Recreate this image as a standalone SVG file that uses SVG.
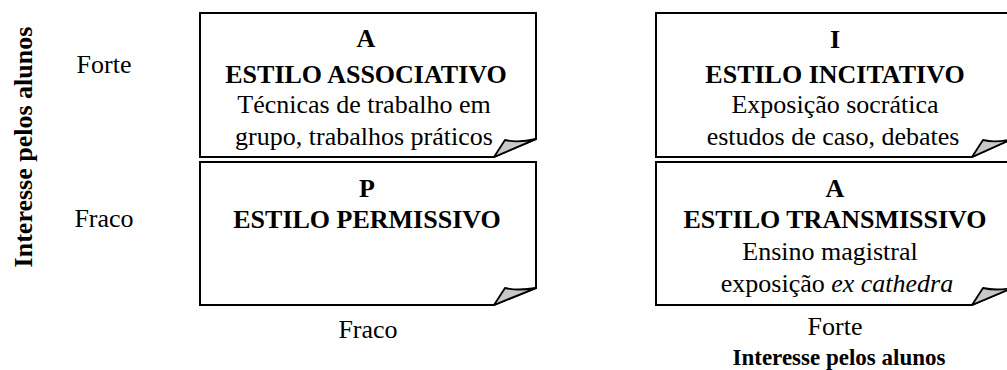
<svg xmlns="http://www.w3.org/2000/svg" width="1007" height="370" viewBox="0 0 1007 370">
  <style>
    text { font-family: "Liberation Serif", "Times New Roman", serif; font-size: 26px; fill: #000; text-anchor: middle; }
    .b { font-weight: bold; }
    .box { fill: #fff; stroke: #000; stroke-width: 2; stroke-linejoin: miter; }
    .fold { fill: #c8c8c8; stroke: #000; stroke-width: 1.8; stroke-linejoin: round; }
  </style>
  <rect width="1007" height="370" fill="#fff"/>

  <g id="axis-y">
    <text class="b" transform="translate(32,147) rotate(-90)">Interesse pelos alunos</text>
    <text x="104" y="73">Forte</text>
    <text x="104" y="227">Fraco</text>
  </g>

  <g id="associativo">
    <path class="box" d="M200,13 H536 V139 L494,157 H200 Z"/>
    <path class="fold" d="M494,157 L505,140 Q518,143 536,139 Z"/>
    <text class="b" x="366" y="47">A</text>
    <text class="b" x="366" y="83">ESTILO ASSOCIATIVO</text>
    <text x="364" y="113">Técnicas de trabalho em</text>
    <text x="364" y="145">grupo, trabalhos práticos</text>
  </g>

  <g id="permissivo">
    <path class="box" d="M200,162 H536 V288 L494,305 H200 Z"/>
    <path class="fold" d="M494,305 L505,288 Q518,291 536,288 Z"/>
    <text class="b" x="367" y="197">P</text>
    <text class="b" x="367" y="228">ESTILO PERMISSIVO</text>
  </g>

  <g id="incitativo">
    <path class="box" d="M656,13 H1012 V139 L972,157 H656 Z"/>
    <path class="fold" d="M972,157 L983,140 Q996,143 1012,139 Z"/>
    <text class="b" x="835" y="48">I</text>
    <text class="b" x="835" y="83">ESTILO INCITATIVO</text>
    <text x="835" y="113">Exposição socrática</text>
    <text x="833" y="145">estudos de caso, debates</text>
  </g>

  <g id="transmissivo">
    <path class="box" d="M656,162 H1012 V288 L972,305 H656 Z"/>
    <path class="fold" d="M972,305 L983,288 Q996,291 1012,288 Z"/>
    <text class="b" x="835" y="197">A</text>
    <text class="b" x="835" y="228">ESTILO TRANSMISSIVO</text>
    <text x="830" y="260">Ensino magistral</text>
    <text x="837" y="292">exposição <tspan font-style="italic">ex cathedra</tspan></text>
  </g>

  <g id="axis-x">
    <text x="368" y="338">Fraco</text>
    <text x="835" y="335">Forte</text>
    <text class="b" x="839" y="365" style="font-size:23px">Interesse pelos alunos</text>
  </g>
</svg>
